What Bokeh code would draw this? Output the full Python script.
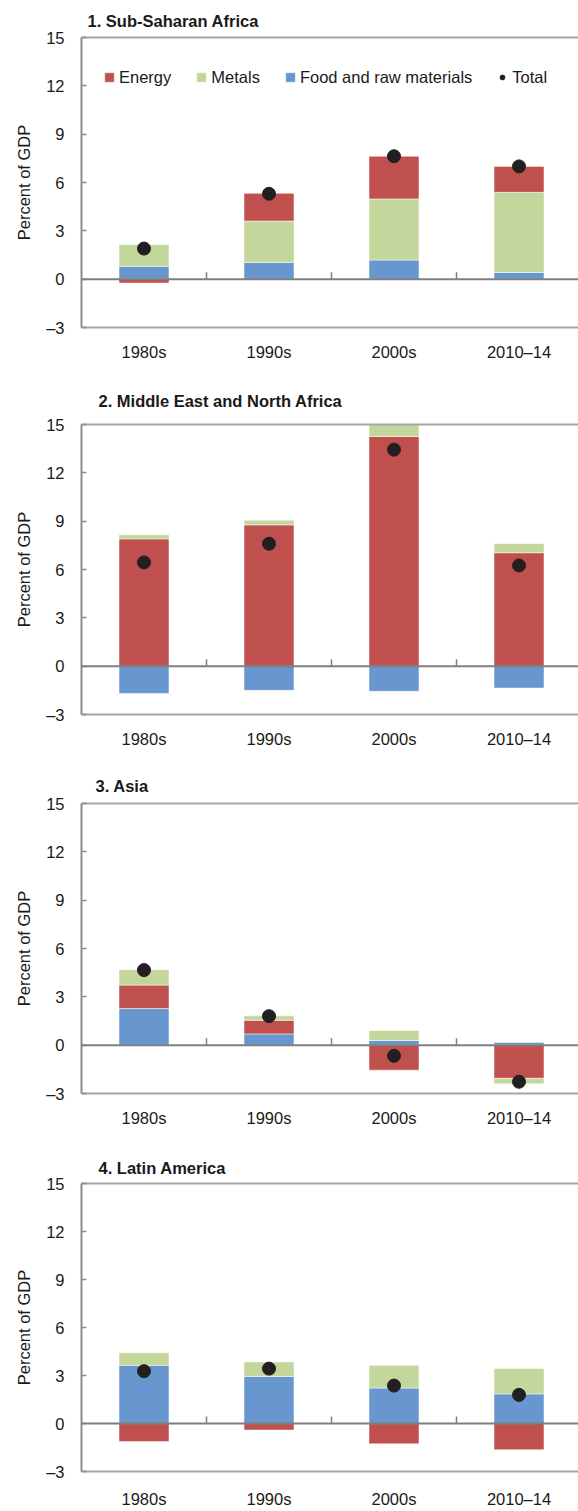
import numpy as np
from bokeh.plotting import figure
from bokeh.models import (Range1d, FixedTicker, LinearAxis, Span, Title, Legend,
                          LegendItem, ColumnDataSource)
from bokeh.layouts import column
from bokeh.embed import file_html
from bokeh.resources import INLINE

# ---------------- data ----------------
periods = ["1980s", "1990s", "2000s", "2010–14"]
y_ticks = [-3, 0, 3, 6, 9, 12, 15]
y_tick_labels = ["–3", "0", "3", "6", "9", "12", "15"]

titles = ["1. Sub-Saharan Africa", "2. Middle East and North Africa",
          "3. Asia", "4. Latin America"]

# Sub-Saharan Africa
ssa_energy = [-0.24, 1.72, 2.65, 1.61]
ssa_metals = [1.34, 2.57, 3.79, 4.97]
ssa_food = [0.80, 1.04, 1.19, 0.42]
ssa_total = [1.90, 5.30, 7.63, 7.00]

# Middle East and North Africa
mena_energy = [7.90, 8.77, 14.26, 7.04]
mena_metals = [0.25, 0.29, 0.74, 0.56]
mena_food = [-1.69, -1.50, -1.56, -1.36]
mena_total = [6.44, 7.60, 13.44, 6.25]

# Asia
asia_energy = [1.46, 0.85, -1.55, -2.06]
asia_metals = [0.95, 0.27, 0.62, -0.33]
asia_food = [2.27, 0.70, 0.29, 0.17]
asia_total = [4.66, 1.80, -0.66, -2.27]

# Latin America
lat_energy = [-1.13, -0.41, -1.27, -1.64]
lat_metals = [0.78, 0.91, 1.42, 1.58]
lat_food = [3.64, 2.94, 2.22, 1.85]
lat_total = [3.27, 3.43, 2.37, 1.79]

series_names = ["Energy", "Metals", "Food and raw materials"]
series_colors = {"Energy": "#C0504D", "Metals": "#C3D69B",
                 "Food and raw materials": "#6897CF"}

# ---------------- style ----------------
FONT = "Liberation Sans"
FS = "16.5px"
TEXT = "#1a1a1a"
AX_GREY = "#8C8C8C"
FRAME_GREY = "#A6A6A6"
ZERO_GREY = "#7F7F7F"

panels = [
    dict(title=titles[0], data={"Energy": ssa_energy, "Metals": ssa_metals,
                                "Food and raw materials": ssa_food}, total=ssa_total,
         order=["Food and raw materials", "Metals", "Energy"],
         h=373, bt=37, fh=290, tstand=16, toff=6, xstand=15, legend=True),
    dict(title=titles[1], data={"Energy": mena_energy, "Metals": mena_metals,
                                "Food and raw materials": mena_food}, total=mena_total,
         order=["Food and raw materials", "Energy", "Metals"],
         h=391, bt=51, fh=290, tstand=30, toff=17, xstand=15, legend=False),
    dict(title=titles[2], data={"Energy": asia_energy, "Metals": asia_metals,
                                "Food and raw materials": asia_food}, total=asia_total,
         order=["Food and raw materials", "Energy", "Metals"],
         h=385, bt=39, fh=290, tstand=18, toff=14, xstand=15, legend=False),
    dict(title=titles[3], data={"Energy": lat_energy, "Metals": lat_metals,
                                "Food and raw materials": lat_food}, total=lat_total,
         order=["Food and raw materials", "Metals", "Energy"],
         h=361, bt=34, fh=290, tstand=13, toff=17, xstand=18, legend=False),
]


def stack(data, order):
    n = len(periods)
    pos = np.zeros(n)
    neg = np.zeros(n)
    out = {}
    for name in order:
        v = np.asarray(data[name], dtype=float)
        bottom = np.where(v >= 0, pos, neg + v)
        top = np.where(v >= 0, pos + v, neg)
        pos = np.where(v >= 0, pos + v, pos)
        neg = np.where(v < 0, neg + v, neg)
        out[name] = (bottom, top)
    return out


figs = []
for pn in panels:
    bb = pn["h"] - pn["bt"] - pn["fh"]
    p = figure(width=578, height=pn["h"], output_backend="svg", toolbar_location=None,
               x_range=Range1d(-0.5, 3.476), y_range=Range1d(-3, 15),
               min_border_left=81, min_border_right=0,
               min_border_top=pn["bt"], min_border_bottom=bb,
               title=None)
    p.outline_line_color = None
    p.xgrid.grid_line_color = None
    p.ygrid.grid_line_color = None
    p.background_fill_color = "white"
    p.border_fill_color = "white"

    xs = np.arange(len(periods))
    stacks = stack(pn["data"], pn["order"])
    renderers = {}
    for name in pn["order"]:
        b, t = stacks[name]
        src = ColumnDataSource(dict(x=xs, bottom=b, top=t))
        r = p.vbar(x="x", bottom="bottom", top="top", width=0.4, source=src,
                   fill_color=series_colors[name], line_color="white",
                   line_alpha=0.5, line_width=1)
        renderers[name] = r

    # zero line and category boundary ticks
    p.add_layout(Span(location=0, dimension="width", line_color=ZERO_GREY, line_width=2))
    bounds = xs[:-1] + 0.5
    p.ray(x=bounds, y=np.zeros(len(bounds)), length=7, length_units="screen",
          angle=np.pi / 2, line_color=ZERO_GREY, line_width=1.5)

    tsrc = ColumnDataSource(dict(x=xs, y=pn["total"]))
    rt = p.scatter(x="x", y="y", source=tsrc, size=13, fill_color="#231F20",
                   line_color="#231F20")

    # axes
    p.yaxis.ticker = FixedTicker(ticks=y_ticks)
    p.yaxis.major_label_overrides = {t: l for t, l in zip(y_ticks, y_tick_labels)}
    p.yaxis.axis_label = "Percent of GDP"
    p.yaxis.axis_label_text_font = FONT
    p.yaxis.axis_label_text_font_style = "normal"
    p.yaxis.axis_label_text_font_size = FS
    p.yaxis.axis_label_text_color = TEXT
    p.yaxis.axis_label_standoff = 10
    p.yaxis.major_label_text_font = FONT
    p.yaxis.major_label_text_font_size = FS
    p.yaxis.major_label_text_color = TEXT
    p.yaxis.major_label_standoff = 17
    p.yaxis.axis_line_color = AX_GREY
    p.yaxis.axis_line_width = 2
    p.yaxis.major_tick_in = 5
    p.yaxis.major_tick_out = 0
    p.yaxis.major_tick_line_color = AX_GREY
    p.yaxis.major_tick_line_width = 1.5
    p.yaxis.minor_tick_line_color = None

    p.xaxis.ticker = FixedTicker(ticks=list(xs))
    p.xaxis.major_label_overrides = {int(i): lab for i, lab in zip(xs, periods)}
    p.xaxis.major_label_text_font = FONT
    p.xaxis.major_label_text_font_size = FS
    p.xaxis.major_label_text_color = TEXT
    p.xaxis.major_label_standoff = pn["xstand"]
    p.xaxis.axis_line_color = FRAME_GREY
    p.xaxis.axis_line_width = 2
    p.xaxis.major_tick_line_color = None
    p.xaxis.major_tick_in = 0
    p.xaxis.major_tick_out = 0
    p.xaxis.minor_tick_line_color = None

    top_axis = LinearAxis(ticker=FixedTicker(ticks=[]), axis_line_color=FRAME_GREY,
                          axis_line_width=2, major_tick_line_color=None,
                          minor_tick_line_color=None, major_label_standoff=0,
                          major_tick_in=0, major_tick_out=0)
    p.add_layout(top_axis, "above")

    p.add_layout(Title(text=pn["title"], align="left", offset=pn["toff"],
                       text_font=FONT, text_font_style="bold",
                       text_font_size=FS, text_color=TEXT,
                       standoff=pn["tstand"]), "above")

    if pn["legend"]:
        items = [LegendItem(label=n, renderers=[renderers[n]]) for n in series_names]
        items.append(LegendItem(label="Total", renderers=[rt]))
        leg = Legend(items=items, orientation="horizontal", location=(22, 240),
                     border_line_color=None, background_fill_alpha=0,
                     label_text_font=FONT, label_text_font_size=FS,
                     label_text_color=TEXT, glyph_width=12, glyph_height=12,
                     label_standoff=4, spacing=24, padding=0, margin=0,
                     label_height=20)
        p.add_layout(leg)

    figs.append(p)

layout = column(*figs, spacing=0)
open("out.html", "w").write(file_html(layout, INLINE))
